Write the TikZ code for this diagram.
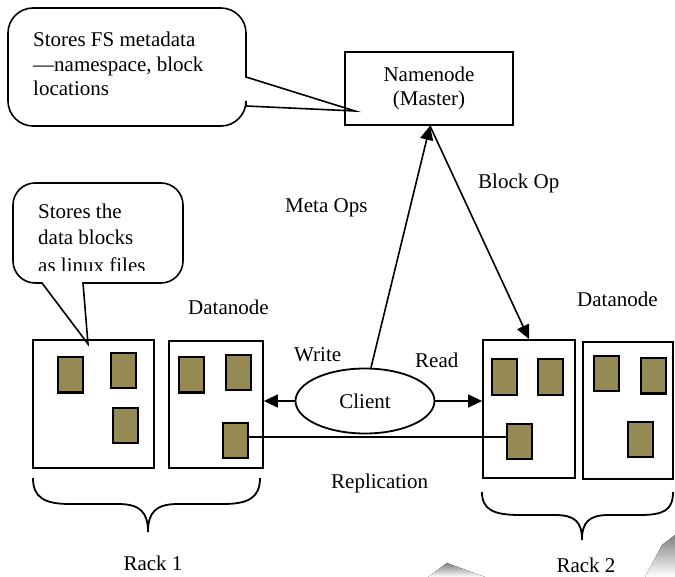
\documentclass[tikz,border=0pt]{standalone}
\usepackage{fontspec}
\setmainfont{Liberation Serif}
\usetikzlibrary{arrows.meta,shapes.geometric}

\definecolor{blockfill}{RGB}{150,138,84}
\definecolor{shade}{RGB}{244,245,248}

\begin{document}
\begin{tikzpicture}[x=1pt,y=-1pt,
  every node/.style={font=\fontsize{21}{24}\selectfont},
  outline/.style={draw=black,line width=1.8pt},
  rackbox/.style={outline,rectangle,inner sep=0pt},
  datablock/.style={draw=black,line width=2pt,fill=blockfill,rectangle,
    inner sep=0pt,minimum width=25pt,minimum height=35pt},
  lbl/.style={anchor=base west,inner sep=0pt},
  arr/.style={line width=1.6pt,-{Triangle[length=14pt,width=13pt]}},
  link/.style={line width=1.6pt},
  brace/.style={line width=1.8pt},
  bubble/.style={draw=black,line width=1.6pt,fill=white,line join=miter}]

\useasboundingbox (0,0) rectangle (675,577);

% faint background marks
\fill[shade] (428,577) -- (447,563) -- (485,577) -- cycle;
\fill[shade] (645,577) -- (662,545) -- (675,535) -- (675,577) -- cycle;

% namenode callout
\draw[bubble] (33,8) -- (221,8) .. controls (234.8,8) and (246,19.2) .. (246,33)
  -- (246,77) -- (355,111) -- (246,106) -- (246,101)
  .. controls (246,114.8) and (234.8,126) .. (221,126) -- (33,126)
  .. controls (19.2,126) and (8,114.8) .. (8,101) -- (8,33)
  .. controls (8,19.2) and (19.2,8) .. (33,8) -- cycle;
\node[lbl] (fs1) at (33,47) {Stores FS metadata};
\node[lbl] (fs2) at (33,71.5) {—namespace, block};
\node[lbl] (fs3) at (33,96) {locations};

% datanode callout
\draw[bubble] (35,183) -- (161,183) .. controls (173.1,183) and (183,192.9) .. (183,205)
  -- (183,261) .. controls (183,273.1) and (173.1,283) .. (161,283)
  -- (83,283) -- (88,344) -- (42,283) -- (35,283)
  .. controls (22.9,283) and (13,273.1) .. (13,261) -- (13,205)
  .. controls (13,192.9) and (22.9,183) .. (35,183) -- cycle;
\node[lbl] (db1) at (38,218.5) {Stores the};
\node[lbl] (db2) at (38,245) {data blocks};
\begin{scope}
  \clip (20,250) rectangle (180,270.5);
  \node[lbl] (db3) at (38,273) {as linux files};
\end{scope}

% namenode
\node[rackbox,minimum width=168pt,minimum height=73pt,align=center]
  (namenode) at (429,88.5) {Namenode\\(Master)};

% rack 1 datanodes
\node[rackbox,minimum width=121pt,minimum height=128pt] (boxA) at (93.5,404) {};
\node[rackbox,minimum width=94pt,minimum height=127pt] (boxB) at (216,404.5) {};
% rack 2 datanodes
\node[rackbox,minimum width=92pt,minimum height=138pt] (boxC) at (529,409) {};
\node[rackbox,minimum width=90pt,minimum height=137pt] (boxD) at (628,410.5) {};

% data blocks
\node[datablock] (a1) at (70,375) {};
\node[datablock] (a2) at (123.5,371) {};
\node[datablock] (a3) at (125,425) {};
\node[datablock] (b1) at (191.5,375) {};
\node[datablock] (b2) at (238.5,372.5) {};
\node[datablock] (b3) at (235,440) {};
\node[datablock] (c1) at (504.5,377) {};
\node[datablock] (c2) at (550,377) {};
\node[datablock] (c3) at (519,441) {};
\node[datablock] (d1) at (606,374) {};
\node[datablock] (d2) at (653,376) {};
\node[datablock] (d3) at (640,439) {};

% client
\node[ellipse,outline,minimum width=139pt,minimum height=65pt,inner sep=0pt]
  (client) at (365,401) {Client};

% connectors
\draw[arr] ([xshift=6pt]client.north) -- ([xshift=1pt]namenode.south);
\draw[arr] ([xshift=1pt]namenode.south) -- (boxC.north);
\draw[arr] (client.west) -- (client.west -| boxB.east);
\draw[arr] (client.east) -- (client.east -| boxC.west);
\draw[link] ([yshift=3pt]b3.east) -- ([yshift=3pt]b3.east -| c3.west);

% labels
\node[lbl] (metaops) at (285,213) {Meta Ops};
\node[lbl] (blockop) at (478,189) {Block Op};
\node[lbl] (write) at (294,362) {Write};
\node[lbl] (read) at (415,367) {Read};
\node[lbl] (dn1) at (188,315) {Datanode};
\node[lbl] (dn2) at (577,307) {Datanode};
\node[lbl] (repl) at (331,488) {Replication};

% rack braces
\draw[brace] (33,478) .. controls (33,498) and (45,504) .. (70,504) -- (118,504)
  .. controls (140,504) and (148,512) .. (148,532)
  .. controls (148,512) and (156,504) .. (178,504) -- (223,504)
  .. controls (248,504) and (260,498) .. (260,478);
\draw[brace] (482,492) .. controls (482,510) and (494,515) .. (520,515) -- (555,515)
  .. controls (575,515) and (582,522) .. (582,540)
  .. controls (582,522) and (589,515) .. (609,515) -- (640,515)
  .. controls (664,515) and (673,510) .. (673,492);
\node[anchor=base,inner sep=0pt] (rack1) at (153,570) {Rack 1};
\node[anchor=base,inner sep=0pt] (rack2) at (586,572) {Rack 2};

\end{tikzpicture}
\end{document}
